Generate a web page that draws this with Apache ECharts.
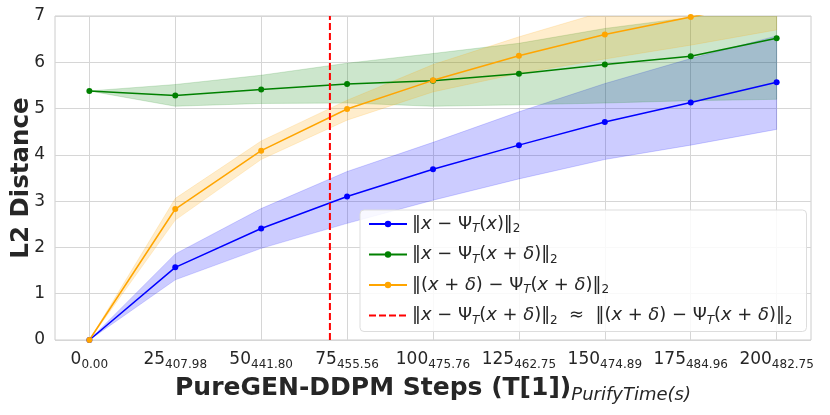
<!DOCTYPE html>
<html lang="en">
<head>
    <meta charset="UTF-8">
    <title>PureGEN DDPM L2 Distance</title>
    <style>
        html, body { margin: 0; padding: 0; background: #fff; }
        #chart { width: 830px; height: 415px; }
    </style>
</head>
<body>
<div id="chart"></div>
<script src="https://cdn.jsdelivr.net/npm/echarts@6/dist/echarts.min.js"></script>
<script>
    var steps = [0, 25, 50, 75, 100, 125, 150, 175, 200];
    var purifyTime = ['0.00', '407.98', '441.80', '455.56', '475.76', '462.75', '474.89', '484.96', '482.75'];

    // ||x - Psi_T(x)||
    var cleanMean = [0, 1.57, 2.41, 3.10, 3.69, 4.21, 4.71, 5.13, 5.57];
    var cleanLow = [0, 1.30, 1.98, 2.52, 3.02, 3.48, 3.90, 4.21, 4.55];
    var cleanHigh = [0, 1.86, 2.84, 3.64, 4.27, 4.93, 5.54, 6.08, 6.57];

    // ||x - Psi_T(x + d)||
    var advMean = [5.38, 5.28, 5.41, 5.53, 5.60, 5.75, 5.95, 6.13, 6.52];
    var advLow = [5.38, 5.05, 5.11, 5.12, 5.05, 5.08, 5.12, 5.17, 5.20];
    var advHigh = [5.38, 5.52, 5.72, 5.98, 6.19, 6.41, 6.73, 6.97, 7.30];

    // ||(x + d) - Psi_T(x + d)||
    var pureMean = [0, 2.83, 4.09, 4.99, 5.61, 6.14, 6.60, 6.98, 7.35];
    var pureLow = [0, 2.59, 3.90, 4.75, 5.36, 5.76, 6.07, 6.37, 6.70];
    var pureHigh = [0, 3.06, 4.30, 5.18, 5.95, 6.55, 7.10, 7.50, 7.90];

    var crossStep = 70;

    var FONT = 'DejaVu Sans';
    var TXT = '#262626';

    function pairs(vals) {
        return steps.map(function (s, i) { return [s, vals[i]]; });
    }

    // shaded min/max band, drawn as one polygon through the axis scales
    function band(lo, hi, color) {
        return {
            type: 'custom', silent: true, clip: true, z: 1,
            data: [0],
            renderItem: function (params, api) {
                var pts = [];
                steps.forEach(function (s, i) { pts.push(api.coord([s, hi[i]])); });
                for (var i = steps.length - 1; i >= 0; i--) pts.push(api.coord([steps[i], lo[i]]));
                return {
                    type: 'polygon',
                    shape: { points: pts },
                    style: { fill: color, opacity: 0.2, stroke: color, lineWidth: 0.8 }
                };
            }
        };
    }

    function meanLine(name, vals, color) {
        return {
            name: name, type: 'line', data: pairs(vals), color: color,
            symbol: 'circle', symbolSize: 6,
            lineStyle: { width: 1.5, color: color },
            itemStyle: { color: color }, z: 3
        };
    }

    var legendText = {
        clean: '{n|‖}{i|x}{n| − Ψ}{t|T}{n|(}{i|x}{n|)‖}{s|2}',
        adv: '{n|‖}{i|x}{n| − Ψ}{t|T}{n|(}{i|x}{n| + }{i|δ}{n|)‖}{s|2}',
        pure: '{n|‖(}{i|x}{n| + }{i|δ}{n|) − Ψ}{t|T}{n|(}{i|x}{n| + }{i|δ}{n|)‖}{s|2}',
        cross: '{n|‖}{i|x}{n| − Ψ}{t|T}{n|(}{i|x}{n| + }{i|δ}{n|)‖}{s|2}{n|  ≈  ‖(}{i|x}{n| + }{i|δ}{n|) − Ψ}{t|T}{n|(}{i|x}{n| + }{i|δ}{n|)‖}{s|2}'
    };

    var chart = echarts.init(document.getElementById('chart'));

    var series = [
        band(cleanLow, cleanHigh, '#0000ff'),
        band(advLow, advHigh, '#008000'),
        band(pureLow, pureHigh, '#ffa500'),
        meanLine('clean', cleanMean, '#0000ff'),
        meanLine('adv', advMean, '#008000'),
        meanLine('pure', pureMean, '#ffa500'),
        {
            name: 'cross', type: 'line', color: '#ff0000',
            data: [[crossStep, 0], [crossStep, 7]], symbol: 'none',
            lineStyle: { color: '#ff0000', width: 2, type: [7, 3] }, z: 4
        }
    ];

    var option = {
        animation: false,
        backgroundColor: '#ffffff',
        grid: {
            left: 55, right: 19, top: 16, bottom: 75,
            outerBoundsMode: 'none',
            show: true, borderColor: '#cccccc', borderWidth: 1
        },
        legend: {
            data: ['clean', 'adv', 'pure', { name: 'cross', itemStyle: { opacity: 0 } }],
            orient: 'vertical',
            left: 360, top: 210,
            padding: [5, 14, 5, 8],
            itemWidth: 38, itemHeight: 8, itemGap: 10.5,
            backgroundColor: 'rgba(255,255,255,0.85)',
            borderColor: '#dddddd', borderWidth: 1, borderRadius: 4,
            formatter: function (name) { return legendText[name]; },
            textStyle: {
                rich: {
                    n: { fontFamily: FONT, fontSize: 17.9, color: TXT, lineHeight: 22 },
                    i: { fontFamily: FONT, fontSize: 17.9, fontStyle: 'italic', color: TXT, lineHeight: 22 },
                    t: { fontFamily: FONT, fontSize: 12, fontStyle: 'italic', color: TXT, lineHeight: 14, verticalAlign: 'bottom' },
                    s: { fontFamily: FONT, fontSize: 12, color: TXT, lineHeight: 14, verticalAlign: 'bottom' }
                }
            }
        },
        xAxis: {
            type: 'value', min: -10, max: 210,
            name: '{b|PureGEN-DDPM Steps (T[1])}{s|PurifyTime(s)}',
            nameLocation: 'middle', nameGap: 31,
            nameTextStyle: {
                rich: {
                    b: { fontFamily: FONT, fontSize: 25, fontWeight: 'bold', color: TXT, lineHeight: 32 },
                    s: { fontFamily: FONT, fontSize: 18, fontStyle: 'italic', color: TXT, lineHeight: 20, verticalAlign: 'bottom' }
                }
            },
            axisLine: { show: false },
            axisTick: { show: false, customValues: steps },
            splitLine: { show: true, lineStyle: { color: '#d6d6d6', width: 1 } },
            axisLabel: {
                customValues: steps,
                margin: 9,
                formatter: function (v) {
                    var i = steps.indexOf(v);
                    return '{m|' + v + '}{s|' + purifyTime[i] + '}';
                },
                rich: {
                    m: { fontFamily: FONT, fontSize: 17, color: TXT, lineHeight: 22 },
                    s: { fontFamily: FONT, fontSize: 12, color: TXT, lineHeight: 14, verticalAlign: 'bottom' }
                }
            }
        },
        yAxis: {
            type: 'value', min: 0, max: 7, interval: 1,
            name: 'L2 Distance', nameLocation: 'middle', nameGap: 21,
            nameMoveOverlap: false,
            nameTextStyle: { fontFamily: FONT, fontSize: 24.5, fontWeight: 'bold', color: TXT },
            axisLine: { show: false },
            axisTick: { show: false },
            splitLine: { show: true, lineStyle: { color: '#d6d6d6', width: 1 } },
            axisLabel: { fontFamily: FONT, fontSize: 17, color: TXT, margin: 10 }
        },
        series: series
    };

    chart.setOption(option);
</script>
</body>
</html>
